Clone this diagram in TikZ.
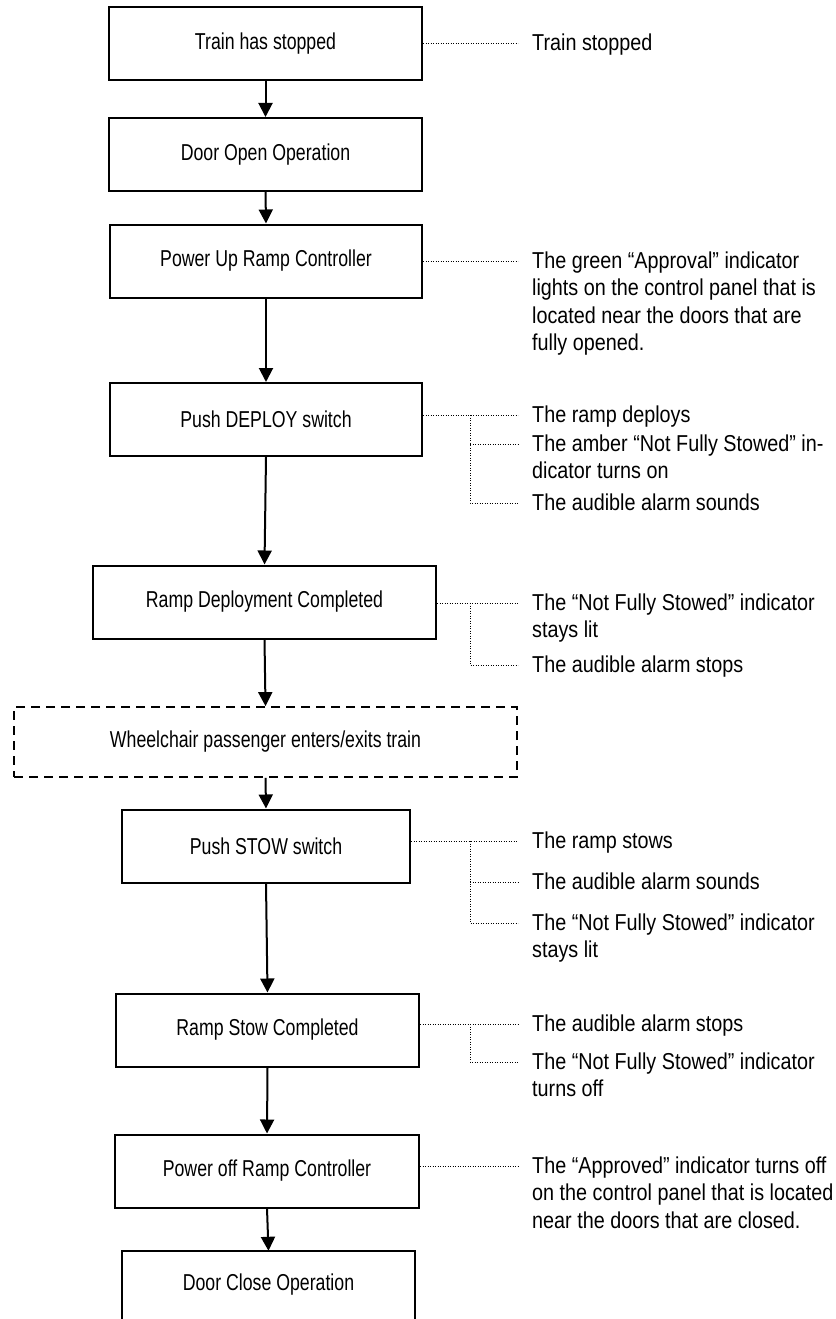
\documentclass[tikz,border=0pt]{standalone}
\usepackage{fontspec}
\setmainfont{Liberation Sans}[FakeStretch=0.86]
\newfontfamily\boxfont{Liberation Sans}[FakeStretch=0.77]
\usetikzlibrary{arrows.meta,calc}
\newcommand{\fstrut}{\rule{0pt}{17pt}}
\begin{document}
\begin{tikzpicture}[x=1pt,y=-1pt,
  box/.style={draw,line width=2pt,minimum height=73pt,inner sep=0pt,
    font=\boxfont\fontsize{23}{27.5}\selectfont},
  dbox/.style={box,dash pattern=on 9pt off 6pt,line width=1.8pt,minimum height=70pt},
  openbox/.style={inner sep=0pt,minimum height=68pt,font=\boxfont\fontsize{23}{27.5}\selectfont},
  lbl/.style={anchor=north west,align=left,inner sep=0pt,
    font=\fontsize{23}{27.5}\selectfont},
  arr/.style={line width=2pt,-{Triangle[width=14pt,length=14pt]}},
  dotl/.style={line width=0.9pt,dash pattern=on 0.9pt off 1.6pt}]
\useasboundingbox (0,0) rectangle (835,1319);

% main boxes
\node[box,minimum width=313pt] (b1) at (265.5,43.5) {Train has stopped};
\node[box,minimum width=313pt] (b2) at (265.5,154.5) {Door Open Operation};
\node[box,minimum width=312pt] (b3) at (266,261) {Power Up Ramp Controller};
\node[box,minimum width=312pt] (b4) at (266,419.5) {Push DEPLOY switch};
\node[box,minimum width=343pt] (b5) at (264.5,602) {Ramp Deployment Completed};
\node[dbox,minimum width=503pt] (b6) at (265.5,742) {Wheelchair passenger enters/exits train};
\node[box,minimum width=288pt] (b7) at (266,846) {Push STOW switch};
\node[box,minimum width=303pt] (b8) at (267.5,1030) {Ramp Stow Completed};
\node[box,minimum width=304pt] (b9) at (267,1171) {Power off Ramp Controller};
\node[openbox,minimum width=293pt] (b10) at (268.5,1285) {Door Close Operation};
\draw[line width=2pt] (b10.south west) -- (b10.north west) -- (b10.north east) -- (b10.south east);

% arrows
\draw[arr] (b1.south) -- (b2.north);
\draw[arr] (b2.south) -- (b3.north);
\draw[arr] (b3.south) -- (b4.north);
\draw[arr] (b4.south) -- (b5.north);
\draw[arr] (b5.south) -- (b6.north);
\draw[arr] (b6.south) -- (b7.north);
\draw[arr] (b7.south) -- (b8.north);
\draw[arr] (b8.south) -- (b9.north);
\draw[arr] (b9.south) -- (b10.north);

% connector end points
\coordinate (j1) at (518,43.5);
\coordinate (j3) at (518,261);
\coordinate (k4) at (470,415);
\coordinate (j4a) at (518,415);
\coordinate (j4b) at (518,444);
\coordinate (j4c) at (518,503);
\coordinate (k5) at (470,603);
\coordinate (j5a) at (518,603);
\coordinate (j5b) at (518,665);
\coordinate (k7) at (470,841);
\coordinate (j7a) at (518,841);
\coordinate (j7b) at (518,882);
\coordinate (j7c) at (518,923);
\coordinate (k8) at (470,1024);
\coordinate (j8a) at (518,1024);
\coordinate (j8b) at (518,1062);
\coordinate (j9) at (518,1166);

% labels (first line centred on its connector)
\node[lbl] (t1) at ($(j1)+(14,-10)$) {\fstrut Train stopped};
\node[lbl] (t3) at ($(j3)+(14,-10)$) {\fstrut The green “Approval” indicator\\lights on the control panel that is\\located near the doors that are\\fully opened.};
\node[lbl] (t4a) at ($(j4a)+(14,-10)$) {\fstrut The ramp deploys};
\node[lbl] (t4b) at ($(j4b)+(14,-10)$) {\fstrut The amber “Not Fully Stowed” in-\\dicator turns on};
\node[lbl] (t4c) at ($(j4c)+(14,-10)$) {\fstrut The audible alarm sounds};
\node[lbl] (t5a) at ($(j5a)+(14,-10)$) {\fstrut The “Not Fully Stowed” indicator\\stays lit};
\node[lbl] (t5b) at ($(j5b)+(14,-10)$) {\fstrut The audible alarm stops};
\node[lbl] (t7a) at ($(j7a)+(14,-10)$) {\fstrut The ramp stows};
\node[lbl] (t7b) at ($(j7b)+(14,-10)$) {\fstrut The audible alarm sounds};
\node[lbl] (t7c) at ($(j7c)+(14,-10)$) {\fstrut The “Not Fully Stowed” indicator\\stays lit};
\node[lbl] (t8a) at ($(j8a)+(14,-10)$) {\fstrut The audible alarm stops};
\node[lbl] (t8b) at ($(j8b)+(14,-10)$) {\fstrut The “Not Fully Stowed” indicator\\turns off};
\node[lbl] (t9) at ($(j9)+(14,-10)$) {\fstrut The “Approved” indicator turns off\\on the control panel that is located\\near the doors that are closed.};

% dotted connectors
\draw[dotl] (b1.east |- j1) -- (j1);
\draw[dotl] (b3.east |- j3) -- (j3);
\draw[dotl] (b4.east |- j4a) -- (j4a);
\draw[dotl] (k4) -- (k4 |- j4c) -- (j4c);
\draw[dotl] (k4 |- j4b) -- (j4b);
\draw[dotl] (b5.east |- j5a) -- (j5a);
\draw[dotl] (k5) -- (k5 |- j5b) -- (j5b);
\draw[dotl] (b7.east |- j7a) -- (j7a);
\draw[dotl] (k7) -- (k7 |- j7c) -- (j7c);
\draw[dotl] (k7 |- j7b) -- (j7b);
\draw[dotl] (b8.east |- j8a) -- (j8a);
\draw[dotl] (k8) -- (k8 |- j8b) -- (j8b);
\draw[dotl] (b9.east |- j9) -- (j9);
\end{tikzpicture}
\end{document}
